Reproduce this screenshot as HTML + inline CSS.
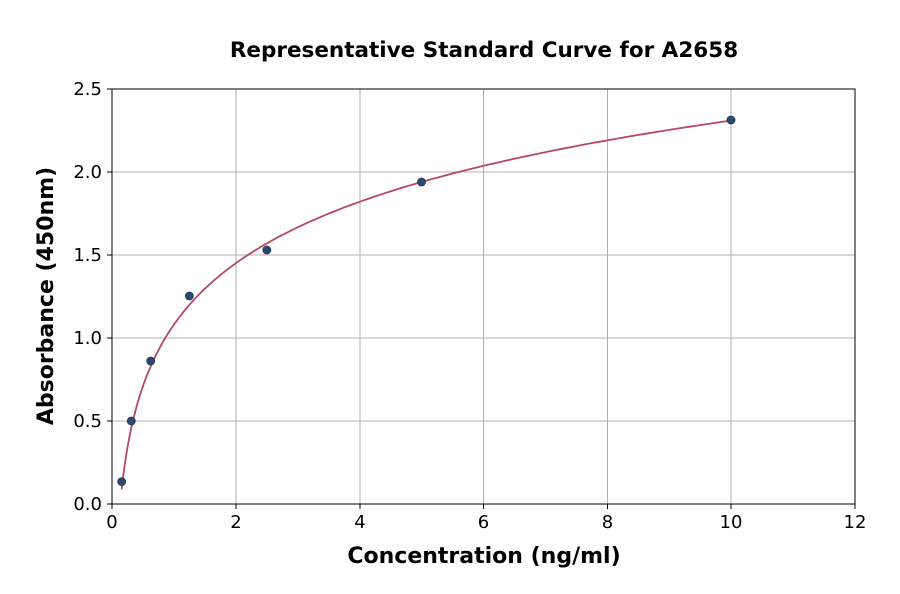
<!DOCTYPE html>
<html><head><meta charset="utf-8"><style>
body{margin:0;background:#fff;}
svg{display:block;font-family:"DejaVu Sans","Liberation Sans",sans-serif;}
</style></head><body>
<svg width="900" height="594" viewBox="0 0 900 594" xmlns="http://www.w3.org/2000/svg">
<rect width="900" height="594" fill="#fff"/>
<text x="484" y="57" font-size="21.5" font-weight="bold" text-anchor="middle">Representative Standard Curve for A2658</text>
<g stroke="#b0b0b0" stroke-width="1">
<line x1="236" y1="89" x2="236" y2="504"/><line x1="360" y1="89" x2="360" y2="504"/>
<line x1="483.5" y1="89" x2="483.5" y2="504"/><line x1="607.5" y1="89" x2="607.5" y2="504"/>
<line x1="731" y1="89" x2="731" y2="504"/>
<line x1="112" y1="421" x2="855" y2="421"/><line x1="112" y1="338" x2="855" y2="338"/>
<line x1="112" y1="255" x2="855" y2="255"/><line x1="112" y1="172" x2="855" y2="172"/>
</g>
<rect x="112" y="89" width="743" height="415" fill="none" stroke="#000" stroke-width="1"/>
<g stroke="#000">
<line x1="112" y1="504" x2="112" y2="509"/><line x1="236" y1="504" x2="236" y2="509"/><line x1="360" y1="504" x2="360" y2="509"/><line x1="483.5" y1="504" x2="483.5" y2="509"/><line x1="607.5" y1="504" x2="607.5" y2="509"/><line x1="731" y1="504" x2="731" y2="509"/><line x1="855" y1="504" x2="855" y2="509"/>
<line x1="107" y1="504" x2="112" y2="504"/><line x1="107" y1="421" x2="112" y2="421"/><line x1="107" y1="338" x2="112" y2="338"/><line x1="107" y1="255" x2="112" y2="255"/><line x1="107" y1="172" x2="112" y2="172"/><line x1="107" y1="89" x2="112" y2="89"/>
</g>
<g font-size="18" text-anchor="middle">
<text x="112" y="528">0</text><text x="236" y="528">2</text><text x="360" y="528">4</text><text x="483.5" y="528">6</text><text x="607.5" y="528">8</text><text x="731" y="528">10</text><text x="855" y="528">12</text>
</g>
<g font-size="18" text-anchor="end">
<text x="102" y="510">0.0</text><text x="102" y="427">0.5</text><text x="102" y="344">1.0</text><text x="102" y="261">1.5</text><text x="102" y="178">2.0</text><text x="102" y="95">2.5</text>
</g>
<text x="484" y="563" font-size="22" font-weight="bold" text-anchor="middle">Concentration (ng/ml)</text>
<text transform="translate(53,296) rotate(-90)" font-size="22" font-weight="bold" text-anchor="middle">Absorbance (450nm)</text>
<path id="curve" fill="none" stroke="#b5486a" stroke-width="1.8"/>
<g fill="#2e4a6e" stroke="#1f3553" stroke-width="0.8">
<circle cx="121.7" cy="481.6" r="4"/><circle cx="131.3" cy="421" r="4"/><circle cx="150.7" cy="361" r="4"/><circle cx="189.4" cy="296" r="4"/><circle cx="266.8" cy="250" r="4"/><circle cx="421.5" cy="182" r="4"/><circle cx="731" cy="120" r="4"/>
</g>
<script>
var d="";for(var i=0;i<=300;i++){var x=0.156*Math.pow(10/0.156,i/300);var y=2.31+0.534*Math.log(x/10);var px=112+x*61.92,py=504-y*166;d+=(i?"L":"M")+px.toFixed(2)+","+py.toFixed(2);}
document.getElementById("curve").setAttribute("d",d);
</script>
</svg>
</body></html>
